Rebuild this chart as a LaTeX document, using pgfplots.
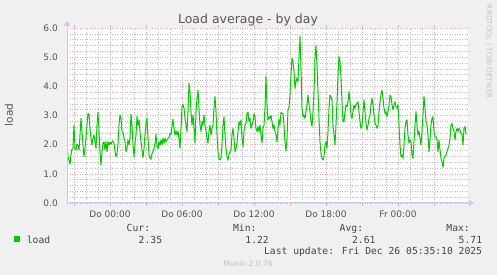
\documentclass[border=0pt]{standalone}
\usepackage{fontspec}
\setmainfont{DejaVu Sans}
\newfontfamily\monofont{DejaVu Sans Mono}
\usepackage{pgfplots}
\usepackage{pgfplotstable}
\pgfplotsset{compat=1.18}
\usetikzlibrary{arrows.meta}
\definecolor{bgc}{HTML}{F0F0F0}
\definecolor{lc}{HTML}{00CC00}
\definecolor{txt}{HTML}{555555}
\definecolor{legt}{HTML}{444444}
\definecolor{majg}{HTML}{EFA8A8}
\definecolor{ming}{HTML}{BDBDBD}
\definecolor{axc}{HTML}{C8C8F4}
\definecolor{munc}{HTML}{C0C0C0}
\definecolor{rrdc}{HTML}{C4C4C4}

% px = horizontal pixel position of the sample, v = load
\pgfplotstableread{
px v
67 2.05
68 1.59
70 1.33
71 1.65
72 1.85
73 1.87
74 2.67
75 1.87
76 1.82
77 2.01
78 1.97
79 1.82
80 2.33
81 2.90
82 2.45
83 1.99
84 1.59
85 1.87
86 2.22
87 2.67
88 3.07
89 3.04
90 2.56
91 2.22
92 1.99
93 2.22
94 2.33
95 2.10
96 1.87
97 2.67
98 3.11
99 2.45
100 1.76
101 1.30
102 1.76
103 2.05
104 2.10
105 1.82
106 2.10
107 1.76
108 2.10
109 1.99
110 2.08
111 2.01
112 2.10
113 2.13
114 2.05
115 1.78
116 1.59
117 1.70
118 1.99
119 2.67
120 3.02
121 2.90
122 2.45
123 2.43
124 2.22
125 2.10
126 1.76
127 1.87
128 2.16
129 1.99
130 2.22
131 3.04
132 2.67
133 1.99
134 1.59
135 2.05
136 2.33
137 2.96
138 2.67
139 2.85
140 2.45
141 2.10
142 1.82
143 1.55
144 1.87
145 2.33
146 2.73
147 2.90
148 2.22
149 1.65
150 1.53
151 1.50
152 1.70
153 1.76
154 1.87
155 2.05
156 2.35
157 1.93
158 1.87
159 2.10
160 1.99
161 2.16
162 1.99
163 2.22
164 2.05
165 2.22
166 2.10
167 2.16
168 2.22
169 2.24
170 2.39
171 2.33
172 2.62
173 2.87
174 2.56
175 2.33
176 2.47
177 2.33
178 2.45
179 2.22
180 1.87
181 2.56
182 3.30
183 3.38
184 3.25
185 2.90
186 2.67
187 2.45
188 3.13
189 4.10
190 3.82
191 3.13
192 2.67
193 3.02
194 2.56
195 2.05
196 3.13
197 3.59
198 3.87
199 3.25
200 2.67
201 2.45
202 2.79
203 2.67
204 3.02
205 2.67
206 2.45
207 2.22
208 2.05
209 2.45
210 2.67
211 2.33
212 2.56
213 2.67
214 3.25
215 3.65
216 3.13
217 2.33
218 1.76
219 1.53
220 1.47
221 1.55
222 1.99
223 2.67
224 2.96
225 2.33
226 1.87
227 1.59
228 1.47
229 1.65
230 1.76
231 1.82
232 2.33
233 2.56
234 2.22
235 1.76
236 1.87
237 2.05
238 2.45
239 2.79
240 2.67
241 2.85
242 2.22
243 1.93
244 2.45
245 2.67
246 2.73
247 3.07
248 3.11
249 2.79
250 2.90
251 2.56
252 2.67
253 2.79
254 3.06
255 2.96
256 2.56
257 2.45
258 2.62
259 2.45
260 2.67
261 2.33
262 2.05
263 2.56
264 2.67
265 3.25
266 4.33
267 3.36
268 2.85
269 2.96
270 2.90
271 3.00
272 2.79
273 2.56
274 2.67
275 2.45
276 2.33
277 2.10
278 2.56
279 2.85
280 2.67
281 3.11
282 3.07
283 3.07
284 2.67
285 2.10
286 1.78
287 2.22
288 3.19
289 3.30
290 3.70
291 4.39
292 4.96
293 4.85
294 4.50
295 3.93
296 4.16
297 4.27
298 4.16
299 4.96
300 5.71
301 4.62
302 3.25
303 2.96
304 3.02
305 2.90
306 3.13
307 3.36
308 3.70
309 3.36
310 3.13
311 2.79
312 2.62
313 3.13
314 3.82
315 4.96
316 5.39
317 4.73
318 3.82
319 2.90
320 2.10
321 1.70
322 1.53
323 1.47
324 1.59
325 1.99
326 2.10
327 1.87
328 2.45
329 3.25
330 3.70
331 3.65
332 3.53
333 2.67
334 2.33
335 1.99
336 2.67
337 3.47
338 4.39
339 5.02
340 4.85
341 4.27
342 3.47
343 2.79
344 2.79
345 3.13
346 3.36
347 3.30
348 3.47
349 3.82
350 3.47
351 3.02
352 2.90
353 3.13
354 3.36
355 3.25
356 3.36
357 3.42
358 3.47
359 3.13
360 2.79
361 2.56
362 2.62
363 3.13
364 3.53
365 3.13
366 2.73
367 2.50
368 2.67
369 2.90
370 3.02
371 3.36
372 3.59
373 3.36
374 3.02
375 2.73
376 2.67
377 2.56
378 2.67
379 3.13
380 3.47
381 3.70
382 3.87
383 3.59
384 3.25
385 3.07
386 3.13
387 2.96
388 3.13
389 3.36
390 3.70
391 3.65
392 3.36
393 3.19
394 3.36
395 3.47
396 3.30
397 3.25
398 3.36
399 2.67
400 1.99
401 1.59
402 1.65
403 1.53
404 1.99
405 2.56
406 2.79
407 2.85
408 2.33
409 2.05
410 2.16
411 2.10
412 1.65
413 1.53
414 2.10
415 2.67
416 3.13
417 2.67
418 2.33
419 2.45
420 2.22
421 1.99
422 2.45
423 3.02
424 3.65
425 3.25
426 2.79
427 2.67
428 2.33
429 1.76
430 2.22
431 2.67
432 2.90
433 2.96
434 2.45
435 2.27
436 2.27
437 2.16
438 1.76
439 2.16
440 1.82
441 1.53
442 1.42
443 1.22
444 1.53
445 1.59
446 1.65
447 1.76
448 1.87
449 1.99
450 2.22
451 2.67
452 2.73
453 2.56
454 2.45
455 2.16
456 2.45
457 2.56
458 2.45
459 2.56
460 2.50
461 2.39
462 2.33
463 1.99
464 2.56
465 2.62
466 2.35
}\loadtab

\begin{document}
\begin{tikzpicture}
\fill[bgc] (0pt,0pt) rectangle (497pt,275pt);
\begin{axis}[
  at={(67pt,72pt)}, anchor=south west,
  scale only axis, width=401pt, height=175pt,
  xmin=-3.5833, xmax=29.8333, ymin=0, ymax=6,
  axis background/.style={fill=white},
  axis line style={draw=none},
  xtick={-3,0,...,27},
  xticklabels={,Do 00:00,,Do 06:00,,Do 12:00,,Do 18:00,,Fr 00:00,},
  minor x tick num=2,
  ytick={0,1,...,6},
  yticklabels={0.0,1.0,2.0,3.0,4.0,5.0,6.0},
  minor y tick num=4,
  tick align=outside,
  major tick length=3pt, minor tick length=0pt,
  major tick style={majg, line width=1pt},
  ytick style={draw=none},
  grid=both,
  major grid style={majg, line width=0.6pt, dash pattern=on 1pt off 1.5pt},
  minor grid style={ming, line width=0.6pt, dash pattern=on 1pt off 1.5pt},
  tick label style={font=\fontsize{9}{9}\selectfont, text=txt},
  xticklabel style={anchor=base, yshift=-12pt, inner sep=0pt},
  yticklabel style={anchor=east, xshift=-6pt, inner sep=0pt},
]
\addplot[lc, line width=1pt, no markers, line join=round]
  table[x expr={(\thisrow{px}-110)/12}, y=v] {\loadtab};
\end{axis}
% axis lines with arrows
\draw[axc, line width=1pt, -{Triangle[length=5pt,width=6pt]}] (67pt,72pt) -- (67pt,254pt);
\draw[axc, line width=1pt, -{Triangle[length=5pt,width=6pt]}] (67pt,72pt) -- (474pt,72pt);
% title and labels
\node[anchor=base, inner sep=0pt, font=\fontsize{12.5}{12.5}\selectfont, text=txt] at (248pt,251pt) {Load average - by day};
\node[rotate=90, inner sep=0pt, font=\fontsize{10.5}{10.5}\selectfont, text=txt] at (9pt,160pt) {load};
\node[rotate=-90, inner sep=0pt, font=\fontsize{7.3}{7.3}\selectfont, text=rrdc] at (489pt,223pt) {RRDTOOL / TOBI OETIKER};
% legend
\fill[lc] (14pt,32.5pt) rectangle (20pt,38.5pt);
\begin{scope}[every node/.style={inner sep=0pt, font=\monofont\fontsize{9.7}{9.7}\selectfont, text=legt}]
\node[anchor=base east] at (150.3pt,43pt) {Cur:};
\node[anchor=base east] at (256.7pt,43pt) {Min:};
\node[anchor=base east] at (363.3pt,43pt) {Avg:};
\node[anchor=base east] at (470pt,43pt) {Max:};
\node[anchor=base west] at (26.7pt,31.8pt) {load};
\node[anchor=base east] at (162.3pt,31.8pt) {2.35};
\node[anchor=base east] at (269pt,31.8pt) {1.22};
\node[anchor=base east] at (375.7pt,31.8pt) {2.61};
\node[anchor=base east] at (482.3pt,31.8pt) {5.71};
\node[anchor=base east] at (482.3pt,20.6pt) {Last update: Fri Dec 26 05:35:10 2025};
\end{scope}
\node[inner sep=0pt, font=\fontsize{7.5}{7.5}\selectfont, text=munc] at (248pt,11pt) {Munin 2.0.76};
\pgfresetboundingbox
\useasboundingbox (0pt,0pt) rectangle (497pt,275pt);
\end{tikzpicture}
\end{document}
